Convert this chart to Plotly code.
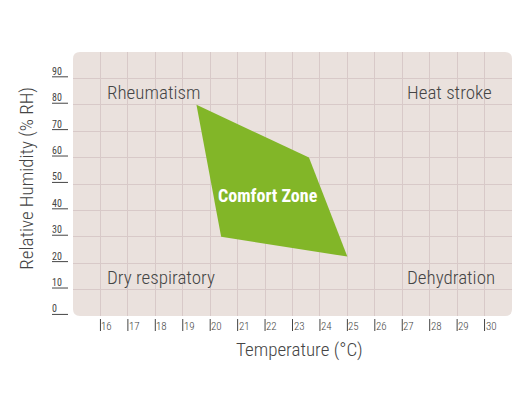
import plotly.graph_objects as go

# comfort zone polygon (temperature °C, relative humidity %)
zone_temp = [19.5, 23.6, 25.0, 20.4]
zone_rh = [80, 60, 22.5, 30]

x_ticks = list(range(16, 31))
y_ticks = list(range(0, 100, 10))

region_labels = ["Rheumatism", "Heat stroke", "Dry respiratory", "Dehydration"]
region_x = [16.15, 27.1, 16.15, 27.1]
region_y = [84.5, 84.5, 14.5, 14.5]

BG = "#eae1dd"
GRID = "#d8c9c8"
GREEN = "#82b628"
TXT = "#454545"
FONT = "Roboto Condensed, Roboto, sans-serif"

# page body has an 8px margin, so the figure starts at (8, 8)
W, H = 439, 264
ML, MT = 65, 44

fig = go.Figure()
fig.add_trace(go.Scatter(
    x=zone_temp + zone_temp[:1], y=zone_rh + zone_rh[:1],
    fill="toself", fillcolor=GREEN, mode="lines",
    line=dict(width=0, color=GREEN), hoverinfo="skip", showlegend=False,
))

fig.update_layout(
    width=ML + W + 10, height=MT + H + 76,
    margin=dict(l=ML, r=10, t=MT, b=76),
    paper_bgcolor="white", plot_bgcolor="rgba(0,0,0,0)",
    font=dict(family=FONT, color=TXT),
    xaxis=dict(range=[15, 31], tickvals=x_ticks, showticklabels=False,
               showgrid=True, gridcolor=GRID, gridwidth=1, zeroline=False,
               showline=False, ticks=""),
    yaxis=dict(range=[0, 100], tickvals=y_ticks[1:], showticklabels=False,
               showgrid=True, gridcolor=GRID, gridwidth=1, zeroline=False,
               showline=False, ticks=""),
)

# rounded background panel
rx, ry = 7 / W, 7 / H
path = (f"M {rx},0 L {1-rx},0 Q 1,0 1,{ry} L 1,{1-ry} Q 1,1 {1-rx},1 "
        f"L {rx},1 Q 0,1 0,{1-ry} L 0,{ry} Q 0,0 {rx},0 Z")
fig.add_shape(type="path", path=path, xref="paper", yref="paper",
              fillcolor=BG, line=dict(width=0), layer="below")

# y tick labels: number sitting on a short rule
for v in y_ticks:
    fig.add_shape(type="line", xref="paper", yref="y",
                  x0=-21 / W, x1=-5 / W, y0=v + 0.6, y1=v + 0.6,
                  line=dict(color=TXT, width=1))
    fig.add_annotation(x=-21 / W, y=v + 0.6, xref="paper", yref="y",
                       text=str(v), showarrow=False, xanchor="left",
                       yanchor="bottom", yshift=-2, xshift=-2,
                       font=dict(size=10, color=TXT))

# x tick labels: short bar followed by the number
for v in x_ticks:
    fig.add_shape(type="line", xref="x", yref="paper",
                  x0=v, x1=v, y0=-3 / H, y1=-15 / H,
                  line=dict(color=TXT, width=1))
    fig.add_annotation(x=v, y=-10 / H, xref="x", yref="paper",
                       text=str(v), showarrow=False, xanchor="left",
                       yanchor="middle", xshift=-1,
                       font=dict(size=11, color=TXT, weight=300))

for t, x, y in zip(region_labels, region_x, region_y):
    fig.add_annotation(x=x, y=y, text=t, showarrow=False, xanchor="left",
                       yanchor="middle",
                       font=dict(size=19, color=TXT, weight=300))

fig.add_annotation(x=22.1, y=45.5, text="<b>Comfort Zone</b>", showarrow=False,
                   font=dict(size=18, color="white"))

fig.add_annotation(x=0.516, y=-33 / H, xref="paper", yref="paper",
                   text="Temperature (°C)", showarrow=False, yanchor="middle",
                   font=dict(size=19, color=TXT, weight=300))
fig.add_annotation(x=-46 / W, y=0.52, xref="paper", yref="paper",
                   text="Relative Humidity (% RH)", showarrow=False,
                   textangle=-90, xanchor="center",
                   font=dict(size=19, color=TXT, weight=300))

fig.write_html("out.html")
